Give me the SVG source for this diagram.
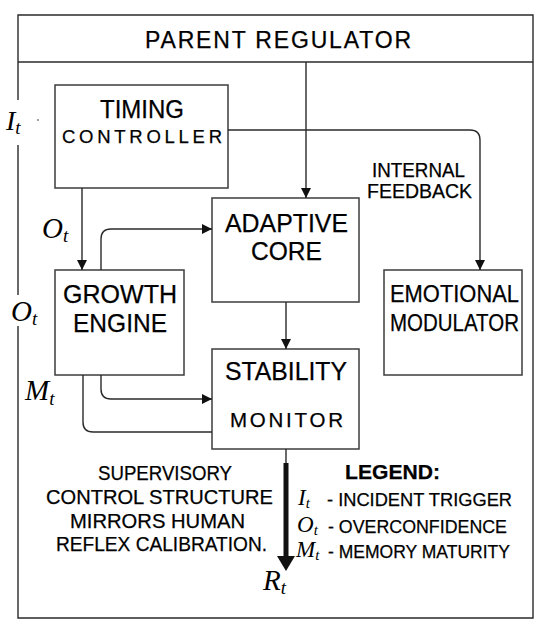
<svg xmlns="http://www.w3.org/2000/svg" width="548" height="636" viewBox="0 0 548 636">
<style>
.box{fill:#fff;stroke:#3c3c3c;stroke-width:1.5}
.ln{fill:none;stroke:#2a2a2a;stroke-width:1.4}
.t{font-family:"Liberation Sans",Arial,sans-serif;fill:#000;stroke:#000;stroke-width:0.25}
.m{font-family:"Liberation Serif","Times New Roman",serif;font-style:italic;fill:#000}
</style>
<defs>
<marker id="ah" markerUnits="userSpaceOnUse" markerWidth="10" markerHeight="10" refX="10" refY="5" orient="auto">
<path d="M0,0 L10,5 L0,10 z" fill="#111"/>
</marker>
</defs>
<rect width="548" height="636" fill="#fff"/>
<g id="frame">
<path class="ln" d="M18,100 V15 H533 V618 H18 V326 M18,295 V145" stroke="#3c3c3c"/>
<line class="ln" x1="18" y1="62" x2="533" y2="62"/>
</g>
<g id="parent-regulator">
<text class="t" x="145" y="48" font-size="23" textLength="266" lengthAdjust="spacing">PARENT REGULATOR</text>
</g>
<g id="timing-controller">
<rect class="box" x="55" y="85" width="173" height="103"/>
<text class="t" x="100" y="118" font-size="25.5" textLength="84" lengthAdjust="spacingAndGlyphs">TIMING</text>
<text class="t" x="62" y="143" font-size="18.5" textLength="160" lengthAdjust="spacing">CONTROLLER</text>
</g>
<g id="growth-engine">
<rect class="box" x="55" y="270" width="129" height="105"/>
<text class="t" x="63" y="303" font-size="26" textLength="114" lengthAdjust="spacingAndGlyphs">GROWTH</text>
<text class="t" x="73" y="332" font-size="26" textLength="94" lengthAdjust="spacingAndGlyphs">ENGINE</text>
</g>
<g id="adaptive-core">
<rect class="box" x="212" y="198" width="147" height="104"/>
<text class="t" x="225" y="232" font-size="26" textLength="123" lengthAdjust="spacingAndGlyphs">ADAPTIVE</text>
<text class="t" x="251" y="260" font-size="26" textLength="71" lengthAdjust="spacingAndGlyphs">CORE</text>
</g>
<g id="stability-monitor">
<rect class="box" x="212" y="349" width="147" height="100"/>
<text class="t" x="225" y="380" font-size="25.5" textLength="122" lengthAdjust="spacingAndGlyphs">STABILITY</text>
<text class="t" x="230" y="427" font-size="20.5" textLength="113" lengthAdjust="spacing">MONITOR</text>
</g>
<g id="emotional-modulator">
<rect class="box" x="384" y="270" width="138" height="105"/>
<text class="t" x="390" y="302" font-size="24.5" textLength="129" lengthAdjust="spacingAndGlyphs">EMOTIONAL</text>
<text class="t" x="390" y="331" font-size="24.5" textLength="129" lengthAdjust="spacingAndGlyphs">MODULATOR</text>
</g>
<g id="connectors">
<path class="ln" d="M306,62 V198" marker-end="url(#ah)"/>
<path class="ln" d="M82,188 V270" marker-end="url(#ah)"/>
<path class="ln" d="M228,130 H470 Q480,130 480,140 V270" marker-end="url(#ah)"/>
<path class="ln" d="M101,270 V239 Q101,229 111,229 H212" marker-end="url(#ah)"/>
<path class="ln" d="M286,302 V349" marker-end="url(#ah)"/>
<path class="ln" d="M101,375 V389 Q101,399 111,399 H212" marker-end="url(#ah)"/>
<path class="ln" d="M83,375 V422 Q83,432 93,432 H212"/>
<path class="ln" d="M286,449 V464"/>
<rect x="283.5" y="463" width="5" height="94" fill="#111"/>
<polygon points="277,556 295,556 286,571" fill="#111"/>
</g>
<g id="labels">
<text class="t" x="372" y="177" font-size="19.5" textLength="93" lengthAdjust="spacingAndGlyphs">INTERNAL</text>
<text class="t" x="367" y="198" font-size="19.5" textLength="105" lengthAdjust="spacingAndGlyphs">FEEDBACK</text>
<text class="m" x="6" y="130" font-size="28">I<tspan font-size="19" dy="4">t</tspan></text>
<circle cx="38" cy="120" r="0.9" fill="#777"/>
<text class="m" x="42" y="238" font-size="29">O<tspan font-size="19" dy="4">t</tspan></text>
<text class="m" x="11" y="321" font-size="29">O<tspan font-size="19" dy="4">t</tspan></text>
<text class="m" x="25" y="400" font-size="29">M<tspan font-size="19" dy="5">t</tspan></text>
<text class="m" x="263" y="590" font-size="29">R<tspan font-size="19" dy="4">t</tspan></text>
</g>
<g id="note">
<text class="t" x="98" y="480" font-size="21" textLength="134" lengthAdjust="spacingAndGlyphs">SUPERVISORY</text>
<text class="t" x="46" y="504" font-size="21" textLength="227" lengthAdjust="spacingAndGlyphs">CONTROL STRUCTURE</text>
<text class="t" x="70" y="528" font-size="21" textLength="175" lengthAdjust="spacingAndGlyphs">MIRRORS HUMAN</text>
<text class="t" x="56" y="551" font-size="21" textLength="211" lengthAdjust="spacingAndGlyphs">REFLEX CALIBRATION.</text>
</g>
<g id="legend">
<text class="t" x="345" y="479" font-size="21" font-weight="bold" textLength="95" lengthAdjust="spacingAndGlyphs">LEGEND:</text>
<text class="m" x="298" y="505" font-size="23">I<tspan font-size="15" dy="3">t</tspan></text>
<text class="t" x="327" y="506" font-size="19" textLength="185" lengthAdjust="spacingAndGlyphs">- INCIDENT TRIGGER</text>
<text class="m" x="297" y="532" font-size="23">O<tspan font-size="15" dy="3">t</tspan></text>
<text class="t" x="328" y="533" font-size="19" textLength="179" lengthAdjust="spacingAndGlyphs">- OVERCONFIDENCE</text>
<text class="m" x="296" y="557" font-size="23">M<tspan font-size="15" dy="3">t</tspan></text>
<text class="t" x="328" y="558" font-size="19" textLength="182" lengthAdjust="spacingAndGlyphs">- MEMORY MATURITY</text>
</g>
</svg>
